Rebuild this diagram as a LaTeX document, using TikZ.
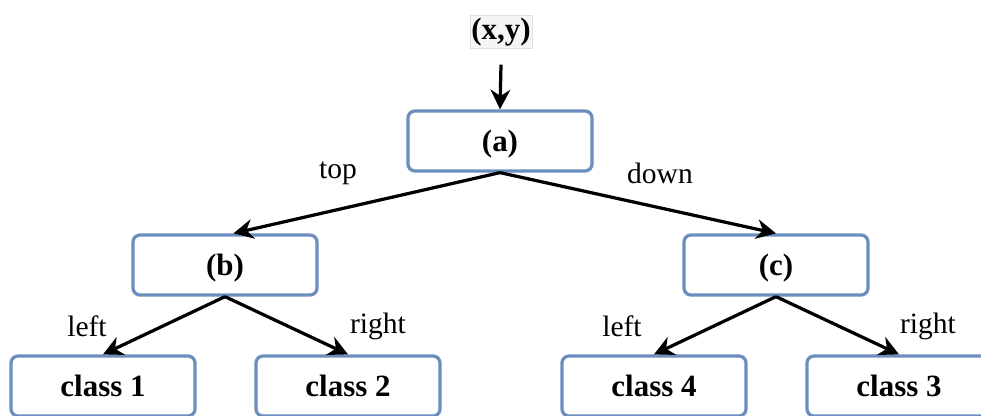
\documentclass[tikz,border=0pt]{standalone}
\usepackage{fontspec}
\setmainfont{Liberation Serif}
\usetikzlibrary{arrows.meta}
\definecolor{boxblue}{HTML}{6C8EBF}
\tikzset{%
  box/.style   = {draw = boxblue, line width = 2.3pt, rounded corners = 5pt, fill = white,
    minimum width = 4.6cm, minimum height = 1.5cm, text depth = 0pt,
    font = \fontsize{22}{26}\selectfont\bfseries},
  lbl/.style   = {font = \fontsize{21}{25}\selectfont},
  link/.style  = {line width = 2.3pt, -{Stealth[length = 14pt, width = 14pt]}}
}
\begin{document}
\begin{tikzpicture}[x = 0.025cm, y = -0.025cm]
    \useasboundingbox (0, 0) rectangle (981, 415);

    %input
    \node[fill = black!4, draw = black!12, line width = 0.4pt, inner sep = 1pt,
      minimum width = 1.45cm, minimum height = 0.82cm,
      font = \fontsize{22}{26}\selectfont\bfseries] (xy) at (501, 32) {(x,y)};
    \node[box] (a) at (500, 141) {(a)};
    \draw[link](xy.south) ++(0, 16) coordinate (in) -- (a.north);

    %second level
    \node[box] (b) at (225, 265) {(b)};
    \node[box] (c) at (776, 265) {(c)};
    \draw[link](a.south) -- ([xshift = 6] b.north);
    \draw[link](a.south) -- (c.north);
    \node[lbl] (top) at (338, 173) {top};
    \node[lbl] (down) at (660, 173) {down};

    %leaves
    \node[box] (c1) at (103, 386) {class 1};
    \node[box] (c2) at (348, 386) {class 2};
    \node[box] (c4) at (654, 386) {class 4};
    \node[box] (c3) at (899, 386) {class 3};
    \draw[link](b.south) -- (c1.north);
    \draw[link](b.south) -- (c2.north);
    \draw[link](c.south) -- (c4.north);
    \draw[link](c.south) -- (c3.north);
    \node[lbl] (bl) at (87, 326) {left};
    \node[lbl] (br) at (378, 326) {right};
    \node[lbl] (cl) at (622, 326) {left};
    \node[lbl] (cr) at (928, 326) {right};
\end{tikzpicture}
\end{document}
